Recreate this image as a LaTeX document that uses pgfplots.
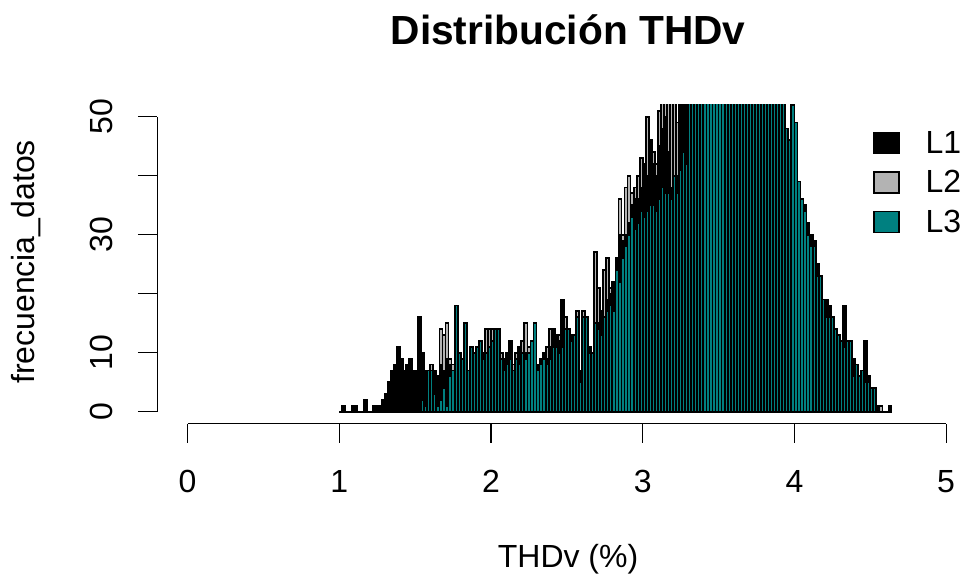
\documentclass[border=0pt]{standalone}
\usepackage{pgfplots}
\pgfplotsset{compat=1.18}
\usepackage{pgfplotstable}
\usepackage{fontspec}
\setmainfont{Liberation Sans}
\definecolor{grayL}{RGB}{179,179,179}
\definecolor{tealL}{RGB}{0,128,128}

\pgfplotstableread{
x l1 l2 l3
1.01 0 0 0
1.03 1 0 0
1.05 0 0 0
1.07 0 0 0
1.09 1 0 0
1.11 1 0 0
1.13 0 0 0
1.15 0 0 0
1.17 2 0 0
1.19 0 0 0
1.21 0 0 0
1.23 1 0 0
1.25 1 0 0
1.27 1 0 0
1.29 2 0 0
1.31 3 0 0
1.33 5 0 0
1.35 7 0 0
1.37 8 0 0
1.39 11 0 0
1.41 9 0 0
1.43 7 0 0
1.45 8 0 0
1.47 9 0 0
1.49 7 0 0
1.51 7 0 0
1.53 16 0 0
1.55 10 0 2
1.57 7 5 1
1.59 7 6 7
1.61 6 8 7
1.63 7 7 3
1.65 6 6 1
1.67 8 14 2
1.69 7 13 4
1.71 9 15 1
1.73 8 9 6
1.75 6 8 7
1.77 8 10 18
1.79 6 9 10
1.81 7 8 9
1.83 5 10 15
1.85 6 6 7
1.87 8 9 11
1.89 7 8 10
1.91 8 10 11
1.93 9 9 12
1.95 10 10 9
1.97 9 14 10
1.99 8 14 11
2.01 9 14 12
2.03 8 13 14
2.05 9 12 14
2.07 8 10 9
2.09 9 8 7
2.11 10 9 8
2.13 12 10 9
2.15 7 8 7
2.17 8 10 9
2.19 11 9 8
2.21 8 12 10
2.23 10 15 9
2.25 9 11 10
2.27 8 9 12
2.29 10 12 15
2.31 8 7 7
2.33 9 8 8
2.35 10 9 9
2.37 9 11 8
2.39 11 14 9
2.41 14 12 11
2.43 13 11 11
2.45 12 13 10
2.47 19 12 11
2.49 13 16 14
2.51 12 14 14
2.53 13 12 12
2.55 13 11 13
2.57 12 17 16
2.59 7 6 5
2.61 12 17 16
2.63 11 15 16
2.65 11 9 10
2.67 10 9 10
2.69 14 27 15
2.71 15 21 14
2.73 17 17 13
2.75 16 24 16
2.77 19 26 17
2.79 20 21 18
2.81 22 21 17
2.83 26 20 24
2.85 30 36 22
2.87 29 30 26
2.89 30 38 28
2.91 32 40 30
2.93 35 37 33
2.95 36 38 31
2.97 36 40 32
2.99 38 43 34
3.01 42 36 33
3.03 40 50 34
3.05 46 44 35
3.07 42 44 35
3.09 40 42 34
3.11 45 51 36
3.13 48 56 38
3.15 50 58 37
3.17 44 55 37
3.19 38 57 36
3.21 37 54 40
3.23 40 49 37
3.25 55 53 41
3.27 58 60 44
3.29 56 58 42
3.31 60 58 55
3.33 62 61 58
3.35 64 63 62
3.37 67 66 65
3.39 69 68 67
3.41 71 70 70
3.43 73 72 72
3.45 74 74 74
3.47 76 75 76
3.49 77 76 77
3.51 77 77 78
3.53 78 77 78
3.55 77 76 78
3.57 76 76 77
3.59 75 74 76
3.61 74 73 75
3.63 72 71 73
3.65 70 70 72
3.67 68 68 70
3.69 67 66 68
3.71 65 64 66
3.73 63 62 65
3.75 62 60 63
3.77 60 58 61
3.79 59 57 60
3.81 58 56 59
3.83 57 55 58
3.85 56 54 57
3.87 55 54 56
3.89 54 53 55
3.91 54 53 55
3.93 53 52 54
3.95 44 45 48
3.97 46 44 46
3.99 48 47 52
4.01 45 44 49
4.03 38 36 39
4.05 35 33 36
4.07 35 31 34
4.09 32 29 30
4.11 30 27 28
4.13 29 25 28
4.15 25 22 23
4.17 22 20 23
4.19 19 18 19
4.21 19 15 16
4.23 18 14 16
4.25 15 13 16
4.27 13 12 14
4.29 12 11 13
4.31 11 10 12
4.33 18 9 11
4.35 10 8 12
4.37 9 8 12
4.39 9 5 6
4.41 7 6 8
4.43 6 5 6
4.45 5 4 7
4.47 12 3 5
4.49 6 2 5
4.51 3 2 4
4.53 3 1 4
4.55 1 0 0
4.57 0 1 0
4.59 0 0 0
4.61 0 0 0
4.63 1 0 0
}\thdv

\begin{document}
\begin{tikzpicture}
\begin{axis}[
  at={(117.945pt,-317.625pt)}, anchor=south west,
  x=113.775pt, y=4.425pt,
  xmin=-0.2, xmax=5.138, ymin=-2, ymax=52,
  axis line style={draw=none},
  clip mode=individual,
  xtick={0,1,2,3,4,5}, xticklabels={0,1,2,3,4,5},
  ytick={0,10,20,30,40,50}, yticklabels={0,10,,30,,50},
  xtick pos=left, ytick pos=left,
  tick align=outside, major tick length=14.5pt,
  tick style={black, line width=0.9pt},
  /pgf/number format/assume math mode=true,
  ticklabel style={font=\fontsize{24}{29}\selectfont},
  xticklabel style={anchor=base, yshift=-37pt},
  yticklabel style={xshift=-19pt, rotate=90, anchor=base},
  title={Distribución THDv},
  title style={at={(axis description cs:0.5073,1.166)}, anchor=base, yshift=0pt, font=\bfseries\fontsize{30.5}{36}\selectfont},
  xlabel={THDv (\%)},
  xlabel style={at={(axis description cs:0.5073,-0.4504)}, anchor=base, font=\fontsize{24}{29}\selectfont},
  ylabel={frecuencia\_datos},
  ylabel style={at={(axis description cs:-0.151,0.5069)}, anchor=base, font=\fontsize{24}{29}\selectfont},
  legend image code/.code={\draw[#1] (0pt,-7.875pt) rectangle (18.75pt,7.875pt);},
  legend style={at={(axis description cs:0.884,0.9185)}, anchor=north west, draw=none, fill=none, inner sep=0pt,
    font=\fontsize{24}{29}\selectfont, row sep=11.4pt, nodes={inner sep=0pt},
    /tikz/every odd column/.append style={column sep=19.5pt}},
  legend cell align=left,
]
\addplot[ybar, bar width=0.02, bar shift=0pt, fill=grayL, draw=black, line width=1.35pt, forget plot] table[x=x, y=l2] {\thdv};
\addplot[ybar, bar width=0.02, bar shift=0pt, fill=black, draw=black, line width=1.35pt, forget plot] table[x=x, y=l1] {\thdv};
\addplot[ybar, bar width=0.02, bar shift=0pt, fill=tealL, draw=black, line width=1.35pt, forget plot] table[x=x, y=l3] {\thdv};
\addlegendimage{fill=black, draw=black, line width=0.9pt}
\addlegendentry{L1}
\addlegendimage{fill=grayL, draw=black, line width=0.9pt}
\addlegendentry{L2}
\addlegendimage{fill=tealL, draw=black, line width=0.9pt}
\addlegendentry{L3}
\draw[line width=0.9pt] (axis cs:0,-2) -- (axis cs:5,-2);
\draw[line width=0.9pt] (axis cs:-0.2,0) -- (axis cs:-0.2,50);
\end{axis}
\pgfresetboundingbox
\path[use as bounding box] (0pt,0pt) rectangle (724.5pt,-435pt);
\end{tikzpicture}
\end{document}
